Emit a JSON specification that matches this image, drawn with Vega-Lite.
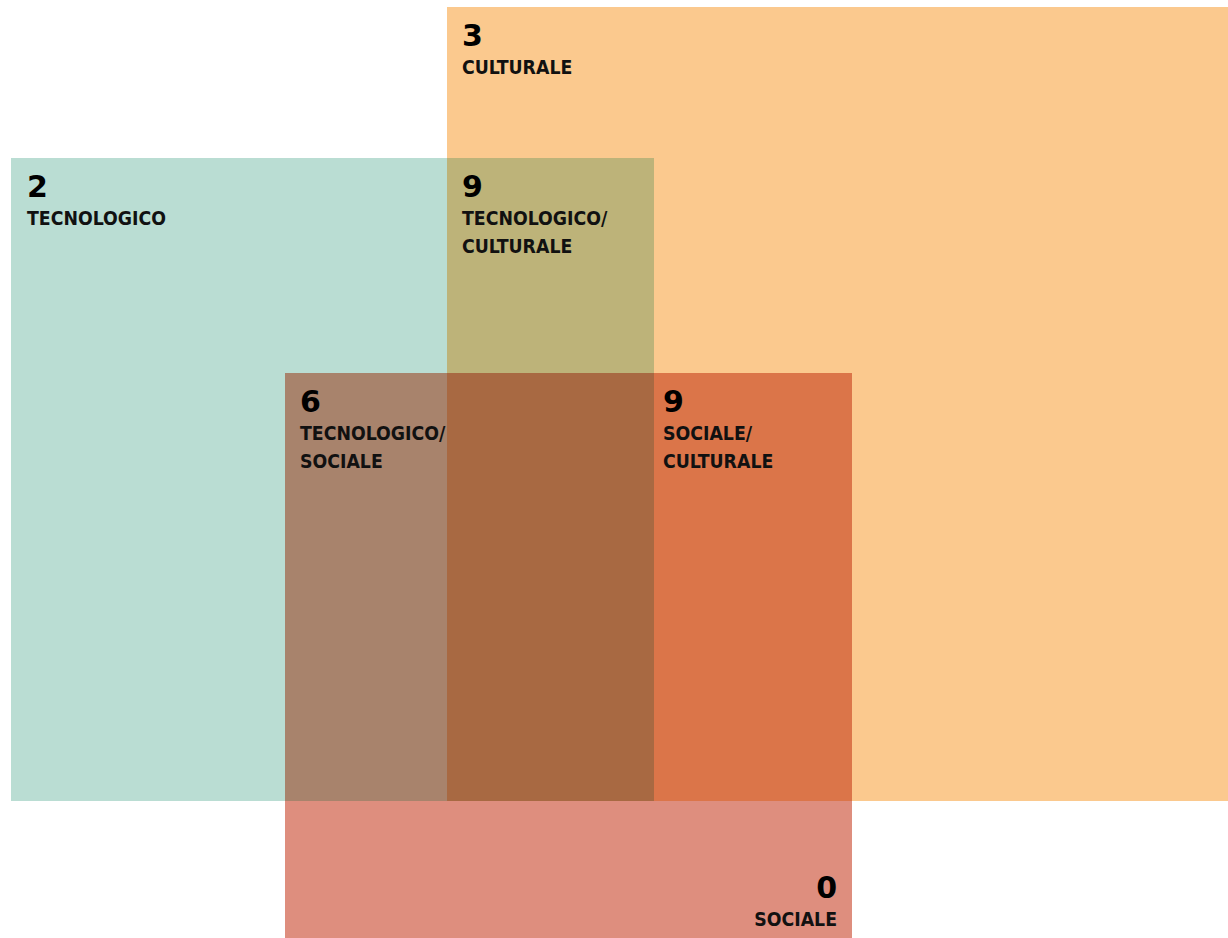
{
  "$schema": "https://vega.github.io/schema/vega-lite/v6.json",
  "width": 1228,
  "height": 938,
  "padding": 0,
  "autosize": {"type": "none"},
  "background": "#ffffff",
  "config": {"view": {"stroke": null}},
  "datasets": {
    "regions": [
      {"region": "CULTURALE", "x": 447, "x2": 1228, "y": 7, "y2": 801},
      {"region": "TECNOLOGICO", "x": 11, "x2": 654, "y": 158, "y2": 801},
      {"region": "SOCIALE", "x": 285, "x2": 852, "y": 373, "y2": 938},
      {"region": "TECNOLOGICO/CULTURALE", "x": 447, "x2": 654, "y": 158, "y2": 373},
      {"region": "TECNOLOGICO/SOCIALE", "x": 285, "x2": 447, "y": 373, "y2": 801},
      {"region": "SOCIALE/CULTURALE", "x": 654, "x2": 852, "y": 373, "y2": 801},
      {"region": "TUTTI", "x": 447, "x2": 654, "y": 373, "y2": 801}
    ],
    "texts": [
      {"kind": "num", "side": "left", "x": 462, "y": 46, "t": "3"},
      {"kind": "lab", "side": "left", "x": 462, "y": 74, "t": "CULTURALE"},
      {"kind": "num", "side": "left", "x": 27, "y": 197, "t": "2"},
      {"kind": "lab", "side": "left", "x": 27, "y": 225, "t": "TECNOLOGICO"},
      {"kind": "num", "side": "left", "x": 462, "y": 197, "t": "9"},
      {"kind": "lab", "side": "left", "x": 462, "y": 225, "t": "TECNOLOGICO/\nCULTURALE"},
      {"kind": "num", "side": "left", "x": 300, "y": 412, "t": "6"},
      {"kind": "lab", "side": "left", "x": 300, "y": 440, "t": "TECNOLOGICO/\nSOCIALE"},
      {"kind": "num", "side": "left", "x": 663, "y": 412, "t": "9"},
      {"kind": "lab", "side": "left", "x": 663, "y": 440, "t": "SOCIALE/\nCULTURALE"},
      {"kind": "num", "side": "right", "x": 837, "y": 898, "t": "0"},
      {"kind": "lab", "side": "right", "x": 837, "y": 926, "t": "SOCIALE"}
    ]
  },
  "layer": [
    {
      "data": {"name": "regions"},
      "mark": {"type": "rect"},
      "encoding": {
        "x": {"field": "x", "type": "quantitative", "scale": {"domain": [0, 1228], "nice": false, "zero": false}, "axis": null},
        "x2": {"field": "x2"},
        "y": {"field": "y", "type": "quantitative", "scale": {"domain": [0, 938], "nice": false, "zero": false, "reverse": true}, "axis": null},
        "y2": {"field": "y2"},
        "color": {
          "field": "region",
          "type": "nominal",
          "legend": null,
          "scale": {
            "domain": ["CULTURALE", "TECNOLOGICO", "SOCIALE", "TECNOLOGICO/CULTURALE", "TECNOLOGICO/SOCIALE", "SOCIALE/CULTURALE", "TUTTI"],
            "range": ["#FBC98E", "#BADDD3", "#DE8E7E", "#BDB379", "#A8836C", "#DB7549", "#A86942"]
          }
        }
      }
    },
    {
      "data": {"name": "texts"},
      "transform": [{"filter": "datum.kind === 'num' && datum.side === 'left'"}],
      "mark": {"type": "text", "align": "left", "baseline": "alphabetic", "font": "DejaVu Sans", "fontWeight": "bold", "fontSize": 30, "color": "#000000"},
      "encoding": {
        "x": {"field": "x", "type": "quantitative"},
        "y": {"field": "y", "type": "quantitative"},
        "text": {"field": "t"}
      }
    },
    {
      "data": {"name": "texts"},
      "transform": [{"filter": "datum.kind === 'num' && datum.side === 'right'"}],
      "mark": {"type": "text", "align": "right", "baseline": "alphabetic", "font": "DejaVu Sans", "fontWeight": "bold", "fontSize": 30, "color": "#000000"},
      "encoding": {
        "x": {"field": "x", "type": "quantitative"},
        "y": {"field": "y", "type": "quantitative"},
        "text": {"field": "t"}
      }
    },
    {
      "data": {"name": "texts"},
      "transform": [{"filter": "datum.kind === 'lab' && datum.side === 'left'"}],
      "mark": {"type": "text", "align": "left", "baseline": "alphabetic", "font": "DejaVu Sans Condensed, sans-serif", "fontWeight": "bold", "fontSize": 19.3, "lineBreak": "\n", "lineHeight": 28, "color": "#111111"},
      "encoding": {
        "x": {"field": "x", "type": "quantitative"},
        "y": {"field": "y", "type": "quantitative"},
        "text": {"field": "t"}
      }
    },
    {
      "data": {"name": "texts"},
      "transform": [{"filter": "datum.kind === 'lab' && datum.side === 'right'"}],
      "mark": {"type": "text", "align": "right", "baseline": "alphabetic", "font": "DejaVu Sans Condensed, sans-serif", "fontWeight": "bold", "fontSize": 19.3, "lineBreak": "\n", "lineHeight": 28, "color": "#111111"},
      "encoding": {
        "x": {"field": "x", "type": "quantitative"},
        "y": {"field": "y", "type": "quantitative"},
        "text": {"field": "t"}
      }
    }
  ]
}
